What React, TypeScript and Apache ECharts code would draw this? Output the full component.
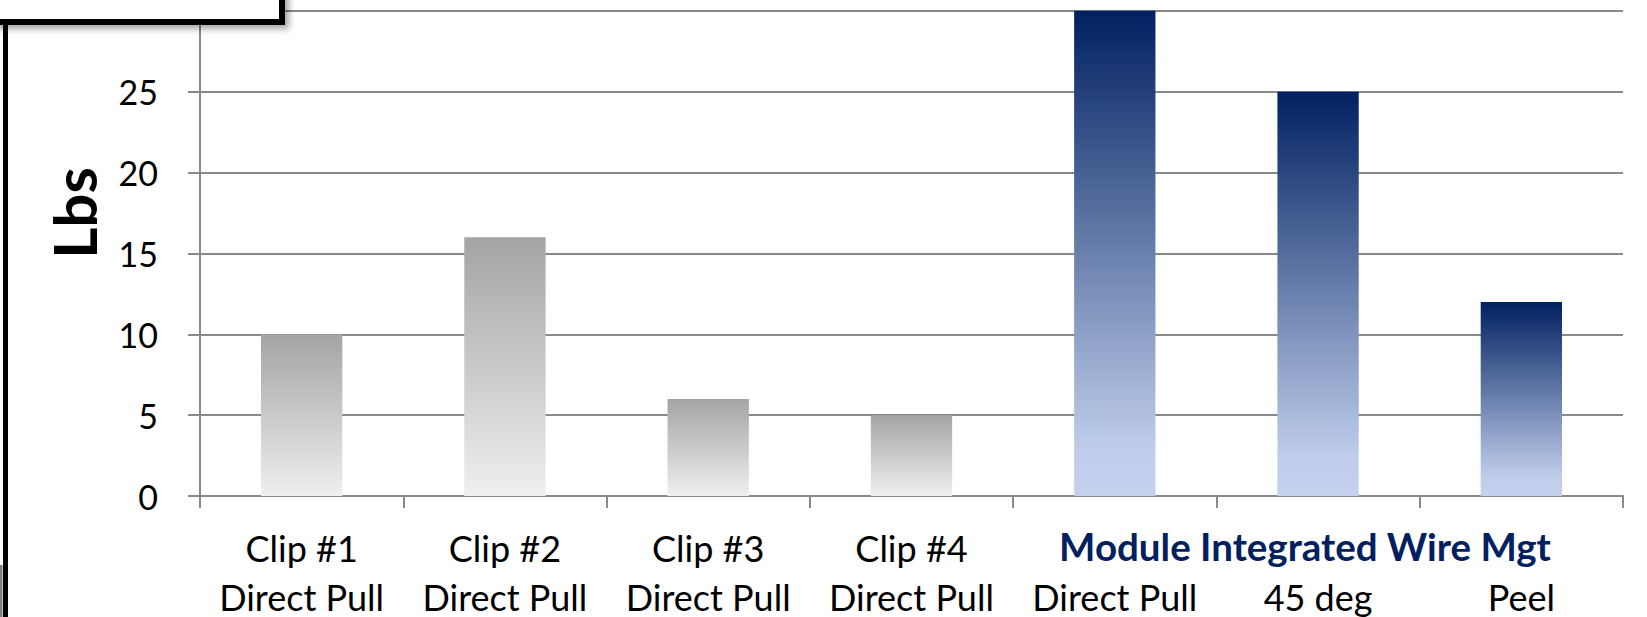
import { useEffect, useRef } from "react";
import * as echarts from "echarts";

// Pull-out force per attachment method
const clipNames = ["Clip #1", "Clip #2", "Clip #3", "Clip #4", "", "", ""];
const pullTypes = ["Direct Pull", "Direct Pull", "Direct Pull", "Direct Pull", "Direct Pull", "45 deg", "Peel"];
const pullForceLbs = [10, 16, 6, 5, 30, 25, 12];
const methodGroup = ["clip", "clip", "clip", "clip", "module", "module", "module"];
const moduleGroupTitle = "Module Integrated Wire Mgt";
const yAxisName = "Lbs";
const yMin = 0;
const yMax = 35;
const yStep = 5;
// the top of the value axis sits behind the title box, so its labels stay blank
const yLabelHiddenFrom = 30;

const FONT = "Lato, 'Open Sans', sans-serif";
const GRID = "#898989";

const grayFill = new echarts.graphic.LinearGradient(0, 0, 0, 1, [
  { offset: 0, color: "#A4A4A4" },
  { offset: 1, color: "#EFEFEF" },
]);
const blueFill = new echarts.graphic.LinearGradient(0, 0, 0, 1, [
  { offset: 0, color: "#002060" },
  { offset: 0.9, color: "#BFCDEB" },
  { offset: 1, color: "#C3D1ED" },
]);

export default function App() {
  const ref = useRef<HTMLDivElement>(null);

  useEffect(() => {
    if (!ref.current) return;
    const chart = echarts.init(ref.current, null, { renderer: "svg" });

    const categories = clipNames.map((c, i) => `${c}\n${pullTypes[i]}`);

    chart.setOption({
      animation: false,
      backgroundColor: "#ffffff",
      grid: {
        left: 200,
        right: 24,
        top: -70,
        bottom: 121,
        outerBoundsMode: "none",
        containLabel: false,
      },
      xAxis: {
        type: "category",
        data: categories,
        boundaryGap: true,
        axisLine: { show: true, lineStyle: { color: GRID, width: 2 } },
        axisTick: { show: true, length: 12, interval: 0, lineStyle: { color: GRID, width: 2 } },
        axisLabel: {
          interval: 0,
          margin: 27,
          color: "#000000",
          fontFamily: FONT,
          fontSize: 36,
          lineHeight: 49,
        },
        splitLine: { show: false },
      },
      yAxis: {
        type: "value",
        min: yMin,
        max: yMax,
        interval: yStep,
        name: yAxisName,
        nameLocation: "middle",
        nameRotate: 90,
        nameGap: 96,
        nameTextStyle: {
          color: "#000000",
          fontFamily: FONT,
          fontSize: 60,
          fontWeight: "bold",
        },
        axisLine: { show: true, lineStyle: { color: GRID, width: 2 } },
        axisTick: { show: true, length: 12, lineStyle: { color: GRID, width: 2 } },
        axisLabel: {
          margin: 42,
          color: "#000000",
          fontFamily: FONT,
          fontSize: 34,
          formatter: (v: number) => (v >= yLabelHiddenFrom ? "" : String(v)),
        },
        splitLine: { show: true, lineStyle: { color: GRID, width: 2 } },
      },
      series: [
        {
          type: "bar",
          barWidth: "40%",
          data: pullForceLbs.map((v, i) => ({
            value: v,
            itemStyle: { color: methodGroup[i] === "clip" ? grayFill : blueFill },
          })),
        },
      ],
      graphic: [
        {
          type: "text",
          z: 50,
          x: 1305,
          y: 546,
          style: {
            text: moduleGroupTitle,
            fill: "#002060",
            font: `bold 38.5px ${FONT}`,
            align: "center",
            verticalAlign: "middle",
          },
        },
        {
          type: "rect",
          z: 100,
          shape: { x: -10, y: -10, width: 292, height: 32 },
          style: {
            fill: "#ffffff",
            stroke: "#000000",
            lineWidth: 6,
            shadowBlur: 6,
            shadowOffsetX: 4,
            shadowOffsetY: 4,
            shadowColor: "rgba(0,0,0,0.35)",
          },
        },
        {
          type: "rect",
          z: 99,
          shape: { x: 3, y: 22, width: 5, height: 620 },
          style: { fill: "#000000" },
        },
        {
          type: "rect",
          z: 99,
          shape: { x: 0, y: 565, width: 2.5, height: 60 },
          style: { fill: "#7f7f7f" },
        },
      ],
    });

    return () => chart.dispose();
  }, []);

  return (
    <div
      ref={ref}
      style={{ position: "fixed", left: 0, top: 0, width: 1647, height: 617 }}
    />
  );
}
